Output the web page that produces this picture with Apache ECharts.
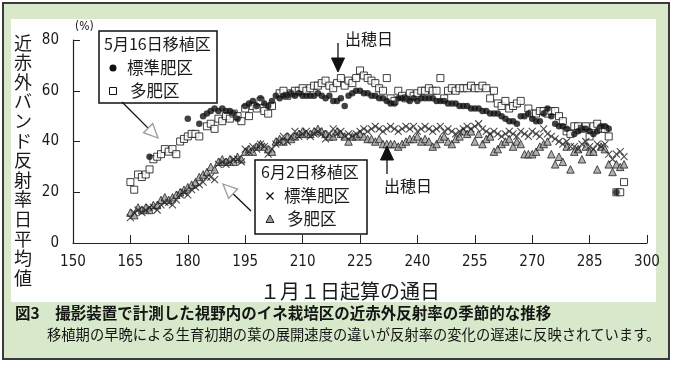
<!DOCTYPE html>
<html><head><meta charset="utf-8">
<script src="https://cdn.jsdelivr.net/npm/echarts/dist/echarts.min.js"></script>
<style>html,body{margin:0;padding:0;background:#fff}#c{width:680px;height:369px}</style>
</head><body><div id="c"></div>
<script>
// ---- data (day of year 165..294, one value per day, null = no observation) ----
const firstDay = 165;
const lastDay = 294;
const xTickValues = [150,165,180,195,210,225,240,255,270,285,300];
const yTickValues = [0,20,40,60,80];

// 5月16日移植区 標準肥区 (●)
const may16Std = [
  null,null,null,null,null,34,null,null,null,null,
  null,null,null,null,null,49,null,null,47,50,
  51,52,53,52,53,52,52,51,49,null,
  54,55,56,54,57,55,54,56,58,57,
  58,58,59,58,59,58,58,58,58,59,
  58,57,58,56,56,57,54,58,59,60,
  60,59,59,58,58,57,57,56,55,55,
  57,57,57,56,57,56,57,57,57,57,
  56,56,56,55,55,55,54,54,54,53,
  53,53,52,52,51,51,51,50,49,48,
  48,47,50,50,51,49,48,48,51,53,
  50,47,46,46,45,null,43,44,45,45,
  44,43,44,46,46,45,null,20,null,null
];
// 5月16日移植区 多肥区 (□)
const may16High = [
  24,21,27,26,27,29,33,34,35,37,
  36,37,35,40,41,42,43,43,42,null,
  46,47,45,49,48,50,49,51,50,48,
  53,50,54,53,56,52,51,54,null,59,
  60,58,59,60,60,61,60,61,62,62,
  63,64,62,61,63,65,62,64,63,65,
  68,66,65,64,63,61,60,65,57,56,
  60,58,57,59,58,59,60,60,61,60,
  60,65,57,60,61,60,61,61,61,62,
  61,61,62,61,57,60,55,54,56,53,
  54,55,56,null,53,51,51,52,52,51,
  52,52,50,48,44,43,46,46,45,46,
  42,46,47,45,45,42,null,20,20,24
];
// 6月2日移植区 標準肥区 (×)
const jun2Std = [
  10,12,13,12,13,14,14,13,15,16,
  16,15,17,19,20,19,21,22,23,24,
  26,26,25,31,32,31,32,33,33,32,
  37,36,38,37,39,38,35,37,39,40,
  42,40,42,44,42,43,44,42,43,44,
  43,41,43,45,43,44,42,43,42,43,
  44,45,44,45,46,45,44,45,46,45,
  44,45,46,45,46,44,45,46,45,44,
  45,46,44,45,44,43,44,45,46,45,
  46,47,45,44,43,44,43,42,43,44,
  43,42,44,43,42,44,43,42,45,43,
  42,41,40,39,40,38,38,37,39,40,
  38,37,39,38,39,35,33,35,36,34
];
// 6月2日移植区 多肥区 (△)
const jun2High = [
  12,11,14,13,14,13,15,15,17,18,
  17,18,19,20,21,22,23,24,26,27,
  28,30,29,32,33,32,33,32,34,33,
  36,37,36,38,39,38,37,36,40,41,
  40,42,41,42,43,44,43,43,44,45,
  44,43,42,42,44,43,42,40,42,42,
  43,42,41,41,40,41,39,39,39,39,
  38,39,40,41,41,42,40,41,40,38,
  39,41,42,40,39,41,42,44,43,44,
  40,43,39,41,42,36,37,39,40,41,
  38,40,39,35,35,35,36,38,39,40,
  35,31,34,32,38,29,36,37,33,38,
  36,36,29,38,37,31,28,31,30,31
];

const days = [];
for (let d = firstDay; d <= lastDay; d++) days.push(d);
function pairs(vals){ const out=[]; vals.forEach((v,i)=>{ if(v!==null) out.push([days[i], v]); }); return out; }

const JP = "'Noto Sans CJK JP', sans-serif";
const NUM = "'Liberation Sans Narrow','DejaVu Sans Condensed','Noto Sans CJK JP',sans-serif";
const INK = '#1a1a1a';

const yTitle = '近赤外バンド反射率日平均値'.split('').join('\n');

function arrow(x1,y1,tx,ty,hollow){
  const dx=tx-x1, dy=ty-y1, L=Math.hypot(dx,dy), ux=dx/L, uy=dy/L;
  const hl=14, hw=6.5;
  const bx=tx-ux*hl, by=ty-uy*hl, px=-uy*hw, py=ux*hw;
  return [
    {type:'line', shape:{x1:x1,y1:y1,x2:bx,y2:by}, style:{stroke:'#111',lineWidth:1.3}, z:20},
    {type:'polygon', shape:{points:[[tx,ty],[bx+px,by+py],[bx-px,by-py]]},
     style: hollow ? {fill:'#fff',stroke:'#9a9a9a',lineWidth:1.3} : {fill:'#111',stroke:'#111',lineWidth:1}, z:20}
  ];
}

const graphics = [
  {type:'rect', shape:{x:3,y:3,width:666,height:356}, style:{fill:'#d7e9ca',stroke:'#3a3a3a',lineWidth:2}, z:-10, silent:true},
  {type:'rect', shape:{x:11,y:19,width:645,height:283}, style:{fill:'#fff'}, z:-9, silent:true},
  {type:'text', x:23, y:33, style:{text:yTitle, font:'18px '+JP, fill:INK, textAlign:'center', lineHeight:19.6}, z:5},
  {type:'text', x:75, y:21, style:{text:'(%)', font:'12px '+NUM, fill:INK}, z:5},
  {type:'text', x:350, y:291, style:{text:'１月１日起算の通日', font:'20px '+JP, fill:INK, textAlign:'center', textVerticalAlign:'middle'}, z:5},
  {type:'text', x:15, y:313, style:{text:'図3　撮影装置で計測した視野内のイネ栽培区の近赤外反射率の季節的な推移', font:'bold 15.5px '+JP, fill:'#151515', textVerticalAlign:'middle'}, z:5},
  {type:'text', x:47, y:335, style:{text:'移植期の早晩による生育初期の葉の展開速度の違いが反射率の変化の遅速に反映されています。', font:'14.3px '+JP, fill:'#151515', textVerticalAlign:'middle'}, z:5},
  // legend box 1
  {type:'rect', shape:{x:99,y:31,width:118,height:72}, style:{fill:'#fff',stroke:'#111',lineWidth:1.5}, z:15},
  {type:'text', x:104, y:44, style:{text:'5月16日移植区', font:'16px '+JP, fill:INK, textVerticalAlign:'middle'}, z:16},
  {type:'circle', shape:{cx:113,cy:68,r:3.5}, style:{fill:'#111'}, z:16},
  {type:'text', x:127, y:68, style:{text:'標準肥区', font:'16.5px '+JP, fill:INK, textVerticalAlign:'middle'}, z:16},
  {type:'rect', shape:{x:109.5,y:87.5,width:7,height:7}, style:{fill:'#fff',stroke:'#111',lineWidth:1}, z:16},
  {type:'text', x:130, y:91, style:{text:'多肥区', font:'16.5px '+JP, fill:INK, textVerticalAlign:'middle'}, z:16},
  // legend box 2
  {type:'rect', shape:{x:255,y:160,width:112,height:74}, style:{fill:'#fff',stroke:'#111',lineWidth:1.5}, z:15},
  {type:'text', x:261, y:172, style:{text:'6月2日移植区', font:'16px '+JP, fill:INK, textVerticalAlign:'middle'}, z:16},
  {type:'polyline', shape:{points:[[266.5,192.5],[273.5,199.5]]}, style:{stroke:'#111',lineWidth:1.2}, z:16},
  {type:'polyline', shape:{points:[[273.5,192.5],[266.5,199.5]]}, style:{stroke:'#111',lineWidth:1.2}, z:16},
  {type:'text', x:284, y:196, style:{text:'標準肥区', font:'16.5px '+JP, fill:INK, textVerticalAlign:'middle'}, z:16},
  {type:'polygon', shape:{points:[[270,215],[274,222.5],[266,222.5]]}, style:{fill:'#9c9c9c',stroke:'#222',lineWidth:1}, z:16},
  {type:'text', x:287, y:219, style:{text:'多肥区', font:'16.5px '+JP, fill:INK, textVerticalAlign:'middle'}, z:16},
  // heading dates
  {type:'text', x:345, y:39, style:{text:'出穂日', font:'16px '+JP, fill:INK, textVerticalAlign:'middle'}, z:16},
  {type:'text', x:384, y:186, style:{text:'出穂日', font:'16px '+JP, fill:INK, textVerticalAlign:'middle'}, z:16}
].concat(arrow(122,102,158,138,true))
 .concat(arrow(251,211,223,184,true))
 .concat(arrow(338,43,338,72,false))
 .concat(arrow(387,174,387,146,false));

const chart = echarts.init(document.getElementById('c'), null, {renderer:'canvas'});
chart.setOption({
  animation:false,
  backgroundColor:'transparent',
  grid:{left:73, right:33, top:40, bottom:126, containLabel:false},
  xAxis:{type:'value', min:150, max:300, interval:15,
    axisLine:{show:true, lineStyle:{color:'#222', width:1.2}},
    axisTick:{show:true, inside:true, length:8, lineStyle:{color:'#222'}},
    axisLabel:{color:INK, fontSize:15, fontFamily:NUM, margin:12,
      formatter:v=> xTickValues.indexOf(v)>=0 ? String(v) : ''},
    splitLine:{show:false}},
  yAxis:{type:'value', min:0, max:80, interval:20,
    axisLine:{show:true, lineStyle:{color:'#222', width:1.2}},
    axisTick:{show:true, inside:true, length:7, lineStyle:{color:'#222'}},
    axisLabel:{color:INK, fontSize:15, fontFamily:NUM, margin:14,
      formatter:v=> yTickValues.indexOf(v)>=0 ? String(v) : ''},
    splitLine:{show:false}},
  graphic: graphics,
  series:[
    {name:'5月16日移植区 多肥区', type:'scatter', data:pairs(may16High), symbol:'rect', symbolSize:7,
      itemStyle:{color:'#fff', borderColor:'#111', borderWidth:1}, z:3},
    {name:'5月16日移植区 標準肥区', type:'scatter', data:pairs(may16Std), symbol:'circle', symbolSize:6.5,
      itemStyle:{color:'#111'}, z:4},
    {name:'6月2日移植区 多肥区', type:'scatter', data:pairs(jun2High), symbol:'triangle', symbolSize:7.5,
      itemStyle:{color:'#9c9c9c', borderColor:'#222', borderWidth:1}, z:3},
    {name:'6月2日移植区 標準肥区', type:'scatter', data:pairs(jun2Std), symbol:'path://M0,0L10,10M10,0L0,10', symbolSize:7,
      itemStyle:{color:'rgba(0,0,0,0)', borderColor:'#222', borderWidth:1.1}, z:4}
  ]
});
</script>
</body></html>
